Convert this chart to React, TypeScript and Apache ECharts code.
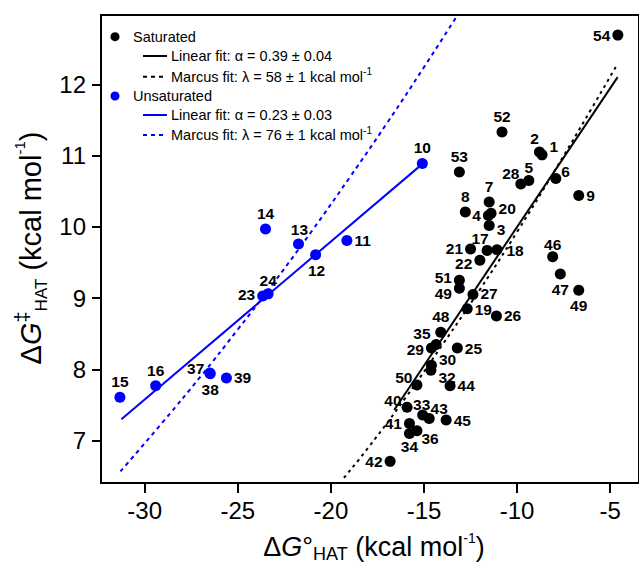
import React, { useEffect, useRef } from 'react';
import * as echarts from 'echarts';

const FONT = '"Liberation Sans", Arial, Helvetica, sans-serif';

// Saturated compounds
const satIds = ['1', '2', '3', '4', '5', '6', '7', '8', '9', '17', '18', '19', '20', '21', '22', '25', '26', '27', '28', '29', '30', '32', '33', '34', '35', '36', '40', '41', '42', '43', '44', '45', '46', '47', '48', '49', '49', '50', '51', '52', '53', '54'];
const satX = [-8.66, -8.8, -11.5, -11.54, -9.37, -7.92, -11.5, -12.78, -6.69, -11.61, -11.08, -12.68, -11.4, -12.5, -12.0, -13.21, -11.11, -12.37, -9.8, -14.6, -14.6, -14.63, -15.07, -15.78, -14.35, -15.38, -15.91, -15.78, -16.82, -14.72, -13.6, -13.81, -8.09, -7.68, -14.1, -13.1, -6.69, -15.38, -13.1, -10.81, -13.1, -4.59];
const satY = [11.01, 11.05, 10.02, 10.16, 10.65, 10.68, 10.35, 10.21, 10.44, 9.67, 9.68, 8.85, 10.19, 9.69, 9.53, 8.3, 8.75, 9.05, 10.6, 8.3, 8.06, 7.99, 7.36, 7.1, 8.35, 7.14, 7.47, 7.24, 6.71, 7.31, 7.77, 7.29, 9.58, 9.34, 8.52, 9.14, 9.11, 7.78, 9.25, 11.33, 10.77, 12.69];

// Unsaturated compounds
const unsatIds = ['10', '11', '12', '13', '14', '15', '16', '23', '24', '37', '38', '39'];
const unsatX = [-15.09, -19.14, -20.82, -21.74, -23.51, -31.33, -29.41, -23.66, -23.37, -26.5, -26.48, -25.61];
const unsatY = [10.89, 9.81, 9.61, 9.76, 9.97, 7.61, 7.77, 9.03, 9.06, 7.95, 7.94, 7.88];

// Fit lines
const satLinearX = [-16.6, -4.6];
const satLinearY = [7.43, 12.1];
const satMarcusX = [-19.3, -18, -16, -14, -12, -10, -8, -6, -4.6];
const satMarcusY = [6.48, 6.9, 7.6, 8.35, 9.12, 9.93, 10.78, 11.66, 12.29];
const unsatLinearX = [-31.25, -15.1];
const unsatLinearY = [7.3, 10.88];
const unsatMarcusX = [-31.3, -29, -27, -25, -23, -21, -19, -17, -15, -13.2];
const unsatMarcusY = [6.57, 7.27, 7.9, 8.56, 9.24, 9.95, 10.69, 11.45, 12.24, 12.97];

const xTicks = [-30, -25, -20, -15, -10, -5];
const yTicks = [7, 8, 9, 10, 11, 12];

const legendLabels = [
  'Saturated',
  'Linear fit: α = 0.39 ± 0.04',
  'Marcus fit: λ = 58 ± 1 kcal mol',
  'Unsaturated',
  'Linear fit: α = 0.23 ± 0.03',
  'Marcus fit: λ = 76 ± 1 kcal mol',
];

// label placement (style), parallel to id arrays: [position, dx, dy]
const satPlace: [string, number, number][] = [
  ['right', 0, -8], // 1
  ['top', -5, 2], // 2
  ['right', 0, 4], // 3
  ['left', 0, 0], // 4
  ['top', 0, 2], // 5
  ['right', -2, -7], // 6
  ['top', 0, 0], // 7
  ['top', 0, 0], // 8
  ['right', 0, 0], // 9
  ['top', -7, 4], // 17
  ['right', 2, 1], // 18
  ['right', 0, 1], // 19
  ['right', 0, -5], // 20
  ['left', 0, 0], // 21
  ['left', 0, 3], // 22
  ['right', 0, 0], // 25
  ['right', 0, 0], // 26
  ['right', 0, -1], // 27
  ['top', -10, 5], // 28
  ['left', 0, 1], // 29
  ['right', 0, -6], // 30
  ['right', 0, 7], // 32
  ['top', -1, 5], // 33
  ['bottom', 0, -3], // 34
  ['left', 2, -11], // 35
  ['right', -3, 8], // 36
  ['left', 2, -7], // 40
  ['left', 0, 0], // 41
  ['left', 0, 0], // 42
  ['top', 10, 5], // 43
  ['right', 0, 0], // 44
  ['right', 0, 0], // 45
  ['top', 0, 3], // 46
  ['bottom', 0, 0], // 47
  ['top', 0, 0], // 48
  ['left', 0, 5], // 49
  ['bottom', 0, 0], // 49
  ['left', 3, -8], // 50
  ['left', 0, -3], // 51
  ['top', 0, 0], // 52
  ['top', 0, 0], // 53
  ['left', 0, 0], // 54
];
const unsatPlace: [string, number, number][] = [
  ['top', 0, 0], // 10
  ['right', 0, 0], // 11
  ['bottom', 1, 0], // 12
  ['top', 1, 1], // 13
  ['top', 0, 0], // 14
  ['top', 0, 0], // 15
  ['top', 0, 0], // 16
  ['left', 0, -2], // 23
  ['top', 0, 2], // 24
  ['left', 2, -4], // 37
  ['bottom', 0, 0], // 38
  ['right', 0, 0], // 39
];

const BLUE = '#0000ff';

function pts(xs: number[], ys: number[]) {
  return xs.map((x, i) => [x, ys[i]]);
}

function scatterData(ids: string[], xs: number[], ys: number[], place: [string, number, number][]) {
  return ids.map((id, i) => ({
    name: id,
    value: [xs[i], ys[i]],
    label: { position: place[i][0] },
  }));
}

function layoutFor(place: [string, number, number][]) {
  return (params: any) => ({
    dx: place[params.dataIndex][1],
    dy: place[params.dataIndex][2],
    hideOverlap: false,
  });
}

export default function App() {
  const ref = useRef<HTMLDivElement>(null);
  useEffect(() => {
    if (!ref.current) return;
    const chart = echarts.init(ref.current, undefined, { renderer: 'svg' });

    const left = 101;
    const top = 15;
    const bottomY = 483;
    const rightEdge = 643;
    // scale from picture: -30 at 145px, -5 at 614px; 12 at 84.3px, 7 at 440.7px
    const pxPerX = (614 - 145) / 25;
    const pxPerY = (440.7 - 84.3) / 5;
    const xMin = -30 - (145 - left) / pxPerX;
    const xMax = -30 + (rightEdge - 145) / pxPerX;
    const yMin = 7 - (bottomY - 440.7) / pxPerY;
    const yMax = 12 + (84.3 - top) / pxPerY;

    const labelCommon = {
      show: true,
      formatter: '{b}',
      fontSize: 15.5,
      fontWeight: 'bold',
      color: '#000',
      fontFamily: FONT,
      distance: 2,
    };

    const legendTextStyle = (text: string, x: number, y: number) => ({
      type: 'text',
      x,
      y,
      silent: true,
      style: {
        text,
        fill: '#000',
        fontSize: 14.5,
        fontFamily: FONT,
        align: 'left',
        verticalAlign: 'middle',
        textAlign: 'left',
        textVerticalAlign: 'middle',
        rich: {
          n: { fontSize: 14.5, fontFamily: FONT, lineHeight: 20, fill: '#000' },
          sup: { fontSize: 10, fontFamily: FONT, lineHeight: 10, verticalAlign: 'top', fill: '#000' },
        },
      },
    });

    const xTitleRich = {
      n: { fontSize: 27, fontFamily: FONT, lineHeight: 32, fill: '#000' },
      i: { fontSize: 27, fontFamily: FONT, fontStyle: 'italic', lineHeight: 32, fill: '#000' },
      sub: { fontSize: 18, fontFamily: FONT, lineHeight: 18, verticalAlign: 'bottom', fill: '#000' },
      sup: { fontSize: 14, fontFamily: FONT, lineHeight: 14, verticalAlign: 'top', fill: '#000' },
    };
    const yTitleRich = {
      n: { fontSize: 29, fontFamily: FONT, lineHeight: 38, fill: '#000' },
      i: { fontSize: 29, fontFamily: FONT, fontStyle: 'italic', lineHeight: 38, fill: '#000' },
      sub: { fontSize: 17, fontFamily: FONT, lineHeight: 17, verticalAlign: 'bottom', fill: '#000' },
      dag: { fontSize: 20, fontFamily: FONT, lineHeight: 22, verticalAlign: 'top', fill: '#000' },
      sup: { fontSize: 15, fontFamily: FONT, lineHeight: 20, verticalAlign: 'top', fill: '#000' },
    };

    const legendY = [36.7, 56, 76.7, 96, 115, 135];

    chart.setOption({
      animation: false,
      backgroundColor: '#fff',
      grid: {
        left,
        top,
        right: -(rightEdge - 639),
        bottom: 565 - bottomY,
        show: true,
        borderColor: '#000',
        borderWidth: 2,
        containLabel: false,
      },
      xAxis: {
        type: 'value',
        min: xMin,
        max: xMax,
        splitLine: { show: false },
        axisLine: { show: true, lineStyle: { color: '#000', width: 2 } },
        axisTick: { show: true, customValues: xTicks, length: 10, lineStyle: { color: '#000', width: 2 } },
        axisLabel: {
          customValues: xTicks,
          fontSize: 24,
          color: '#000',
          fontFamily: FONT,
          margin: 15,
          formatter: (v: number) => String(v),
        },
      },
      yAxis: {
        type: 'value',
        min: yMin,
        max: yMax,
        splitLine: { show: false },
        axisLine: { show: true, lineStyle: { color: '#000', width: 2 } },
        axisTick: { show: true, customValues: yTicks, length: 9, lineStyle: { color: '#000', width: 2 } },
        axisLabel: {
          customValues: yTicks,
          fontSize: 24,
          color: '#000',
          fontFamily: FONT,
          margin: 15,
          formatter: (v: number) => String(v),
        },
      },
      series: [
        {
          type: 'line',
          data: pts(satLinearX, satLinearY),
          showSymbol: false,
          symbol: 'none',
          lineStyle: { color: '#000', width: 2 },
          z: 1,
          silent: true,
        },
        {
          type: 'line',
          data: pts(satMarcusX, satMarcusY),
          showSymbol: false,
          symbol: 'none',
          smooth: true,
          lineStyle: { color: '#000', width: 2, type: [3, 4] },
          z: 1,
          silent: true,
        },
        {
          type: 'line',
          data: pts(unsatLinearX, unsatLinearY),
          showSymbol: false,
          symbol: 'none',
          lineStyle: { color: BLUE, width: 2 },
          z: 1,
          silent: true,
        },
        {
          type: 'line',
          data: pts(unsatMarcusX, unsatMarcusY),
          showSymbol: false,
          symbol: 'none',
          smooth: true,
          lineStyle: { color: BLUE, width: 2, type: [4, 4] },
          z: 1,
          silent: true,
        },
        {
          type: 'scatter',
          data: scatterData(satIds, satX, satY, satPlace),
          symbolSize: 11,
          itemStyle: { color: '#000', opacity: 1 },
          label: labelCommon,
          labelLayout: layoutFor(satPlace),
          z: 3,
        },
        {
          type: 'scatter',
          data: scatterData(unsatIds, unsatX, unsatY, unsatPlace),
          symbolSize: 11,
          itemStyle: { color: BLUE, opacity: 1 },
          label: labelCommon,
          labelLayout: layoutFor(unsatPlace),
          z: 3,
        },
      ],
      graphic: [
        // legend
        { type: 'circle', shape: { cx: 115, cy: legendY[0], r: 4.5 }, style: { fill: '#000' }, silent: true },
        legendTextStyle(legendLabels[0], 133, legendY[0]),
        { type: 'line', shape: { x1: 143, y1: legendY[1], x2: 167, y2: legendY[1] }, style: { stroke: '#000', lineWidth: 2 }, silent: true },
        legendTextStyle(legendLabels[1], 171, legendY[1]),
        { type: 'line', shape: { x1: 143, y1: legendY[2], x2: 167, y2: legendY[2] }, style: { stroke: '#000', lineWidth: 2, lineDash: [4, 4] }, silent: true },
        legendTextStyle('{n|' + legendLabels[2] + '}{sup|-1}', 171, legendY[2]),
        { type: 'circle', shape: { cx: 115, cy: legendY[3], r: 4.5 }, style: { fill: BLUE }, silent: true },
        legendTextStyle(legendLabels[3], 133, legendY[3]),
        { type: 'line', shape: { x1: 143, y1: legendY[4], x2: 167, y2: legendY[4] }, style: { stroke: BLUE, lineWidth: 2 }, silent: true },
        legendTextStyle(legendLabels[4], 171, legendY[4]),
        { type: 'line', shape: { x1: 143, y1: legendY[5], x2: 167, y2: legendY[5] }, style: { stroke: BLUE, lineWidth: 2, lineDash: [4, 4] }, silent: true },
        legendTextStyle('{n|' + legendLabels[5] + '}{sup|-1}', 171, legendY[5]),
        // axis titles
        {
          type: 'text',
          x: 374,
          y: 547,
          silent: true,
          style: {
            text: '{n|Δ}{i|G}{n|°}{sub|HAT}{n| (kcal mol}{sup|-1}{n|)}',
            rich: xTitleRich,
            align: 'center',
            verticalAlign: 'middle',
            textAlign: 'center',
            textVerticalAlign: 'middle',
            fill: '#000',
          },
        },
        {
          type: 'text',
          x: 31,
          y: 248,
          rotation: Math.PI / 2,
          silent: true,
          style: {
            text: '{n|Δ}{i|G}{dag|‡}{sub|HAT}{n| (kcal mol}{sup|-1}{n|)}',
            rich: yTitleRich,
            align: 'center',
            verticalAlign: 'middle',
            textAlign: 'center',
            textVerticalAlign: 'middle',
            fill: '#000',
          },
        },
      ],
    });
    return () => chart.dispose();
  }, []);
  return (
    <div
      ref={ref}
      style={{ position: 'absolute', left: 0, top: 0, width: 639, height: 565, overflow: 'hidden' }}
    />
  );
}
